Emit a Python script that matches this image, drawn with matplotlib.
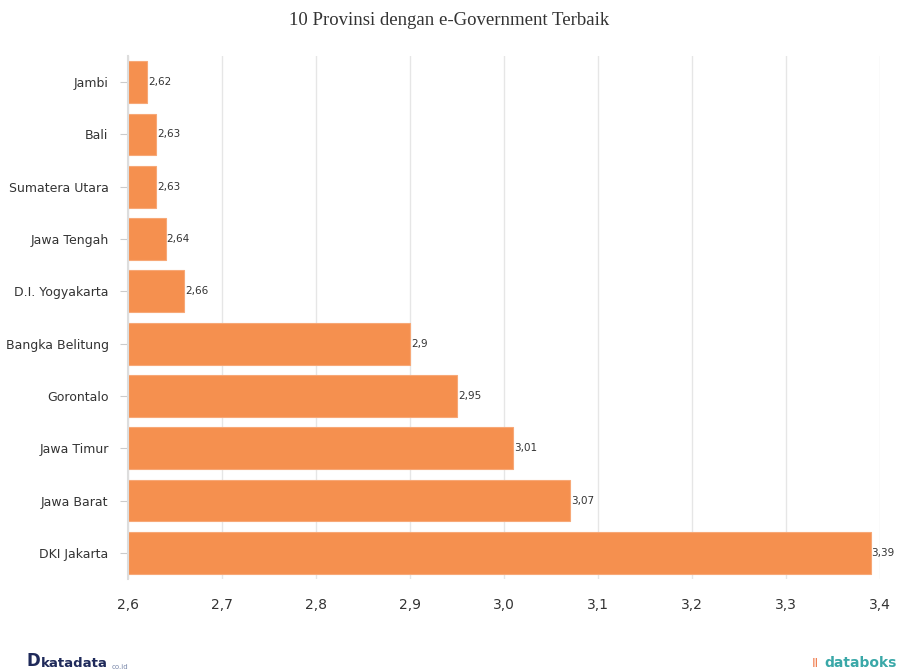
import matplotlib
matplotlib.use("Agg")
import matplotlib.pyplot as plt

categories = ["Jambi", "Bali", "Sumatera Utara", "Jawa Tengah", "D.I. Yogyakarta",
              "Bangka Belitung", "Gorontalo", "Jawa Timur", "Jawa Barat", "DKI Jakarta"]
values = [2.62, 2.63, 2.63, 2.64, 2.66, 2.90, 2.95, 3.01, 3.07, 3.39]
value_labels = ["2,62", "2,63", "2,63", "2,64", "2,66", "2,9", "2,95", "3,01", "3,07", "3,39"]
xticks = [2.6, 2.7, 2.8, 2.9, 3.0, 3.1, 3.2, 3.3, 3.4]
xtick_labels = ["2,6", "2,7", "2,8", "2,9", "3,0", "3,1", "3,2", "3,3", "3,4"]

fig = plt.figure(figsize=(8.99, 6.72), dpi=100)
ax = fig.add_axes([0.1424, 0.1384, 0.8365, 0.7783])

base = 2.6
y = list(range(len(categories)))
ax.barh(y, [v - base for v in values], left=base, height=0.8,
        color="#F5904F", edgecolor="#F7A877", linewidth=0.8, zorder=2)
for yi, v, lab in zip(y, values, value_labels):
    ax.text(v + 0.001, yi, lab, va="center", ha="left", fontsize=7.5,
            color="#333333", family="DejaVu Sans", zorder=3)

ax.set_xlim(2.6, 3.4)
ax.set_ylim(len(categories) - 0.5, -0.5)
ax.set_xticks(xticks)
ax.set_xticklabels(xtick_labels, fontsize=10, color="#333333")
ax.set_yticks(y)
ax.set_yticklabels(categories, fontsize=9, color="#333333")
ax.grid(axis="x", color="#e6e6e6", linewidth=1, zorder=0)
ax.set_axisbelow(True)
for s in ["top", "right", "bottom"]:
    ax.spines[s].set_visible(False)
ax.spines["left"].set_color("#dddddd")
ax.spines["left"].set_linewidth(1.5)
ax.tick_params(axis="x", length=0, pad=14)
ax.tick_params(axis="y", length=6, color="#cccccc", pad=8)

fig.text(0.5, 0.97, "10 Provinsi dengan e-Government Terbaik", ha="center", va="center",
         fontsize=13.5, family="Liberation Serif", color="#333333")

fig.text(0.029, 0.003, "D", ha="left", va="bottom", fontsize=12, fontweight="bold",
         color="#1f2a5a", family="DejaVu Sans")
fig.text(0.046, 0.003, "katadata", ha="left", va="bottom", fontsize=9.5, fontweight="bold",
         color="#1f2a5a", family="DejaVu Sans")
fig.text(0.124, 0.003, "co.id", ha="left", va="bottom", fontsize=5,
         color="#7a88aa", family="DejaVu Sans")
fig.text(0.903, 0.003, "\u2161", ha="left", va="bottom", fontsize=9,
         color="#f07a4a", family="DejaVu Sans")
fig.text(0.997, 0.003, "databoks", ha="right", va="bottom", fontsize=10, fontweight="bold",
         color="#3aa8a8", family="DejaVu Sans")

fig.savefig("out.png", dpi=100, facecolor="white")
